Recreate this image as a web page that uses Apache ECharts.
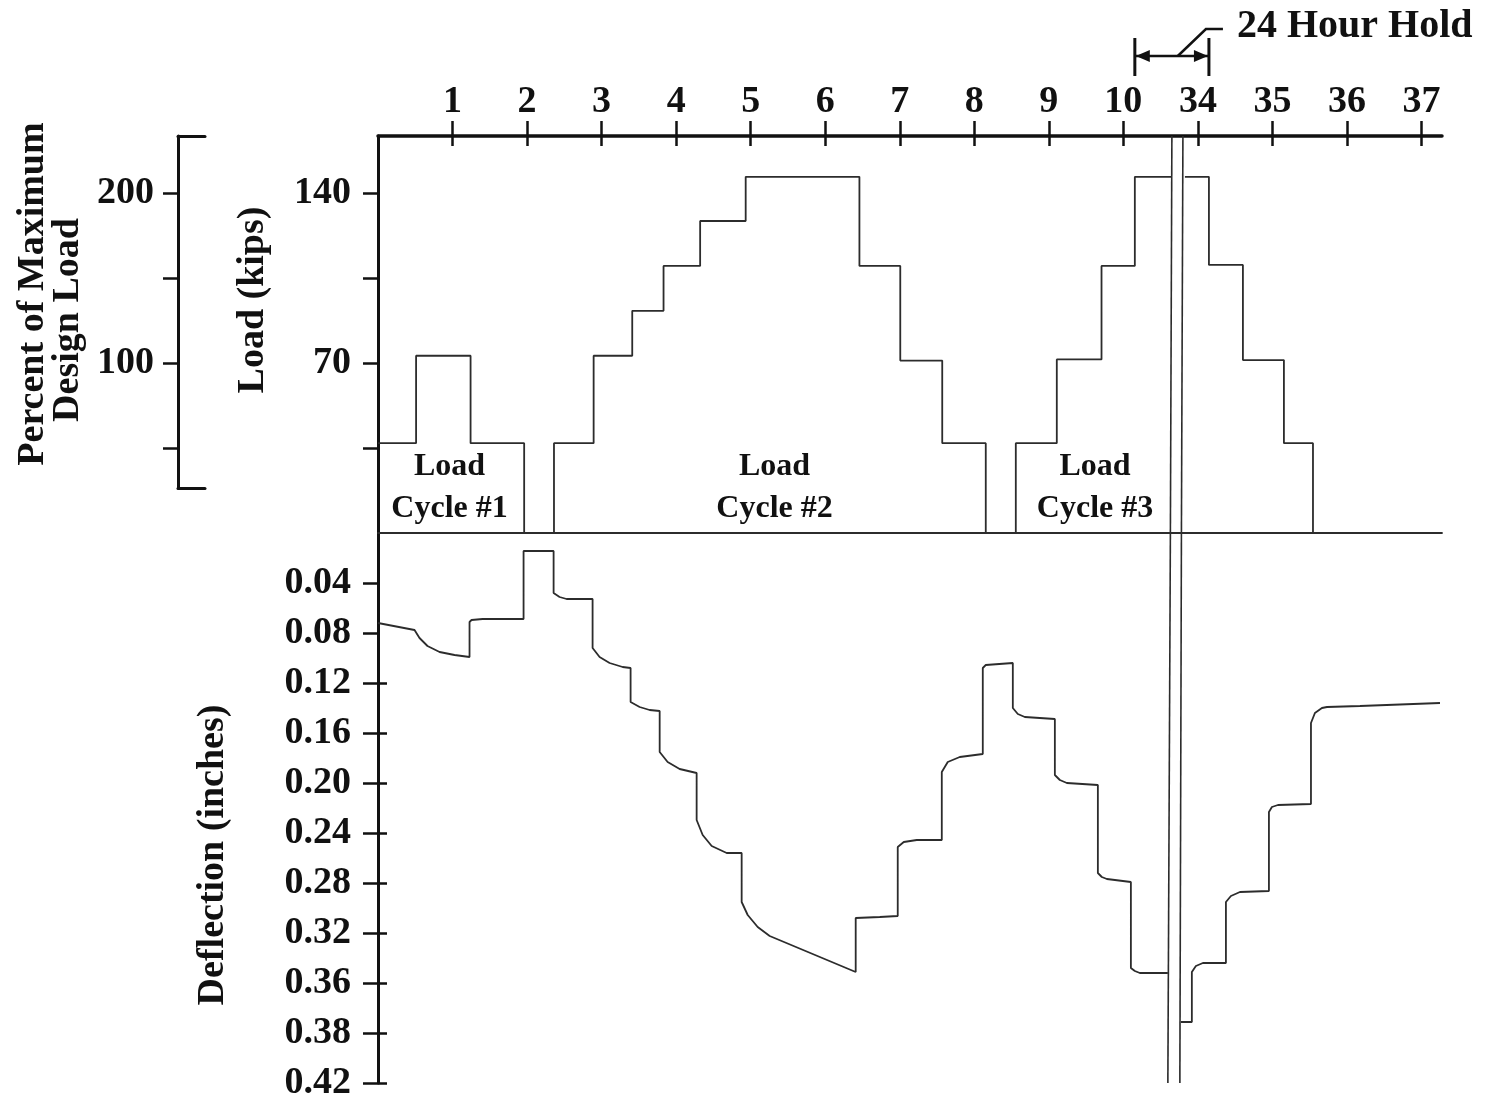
<!DOCTYPE html>
<html>
<head>
<meta charset="utf-8">
<script src="https://cdn.jsdelivr.net/npm/echarts@6/dist/echarts.min.js"></script>
<style>
html,body{margin:0;padding:0;background:#fff;}
#chart{width:1488px;height:1103px;}
</style>
</head>
<body>
<div id="chart"></div>
<script>
// ---- Top time axis (broken axis: 1..10 then 34..37) ----
const xTickPos = [1,2,3,4,5,6,7,8,9,10,11,12,13,14];
const xTickLabels = ['1','2','3','4','5','6','7','8','9','10','34','35','36','37'];
const xMax = 14.275;

// ---- Load axis (kips) and percent axis ----
const loadTicks = [35,70,105,140];
const loadLabels = [70,140];
const loadMax = 163.5;
const pctTicks = [50,100,150,200];
const pctLabels = [100,200];
const pctMin = 26.5, pctMax = 233.5;

// ---- Deflection axis ----
const defTickPos = [0.04,0.08,0.12,0.16,0.2,0.24,0.28,0.32,0.36,0.4,0.44];
const defTickLabels = ['0.04','0.08','0.12','0.16','0.20','0.24','0.28','0.32','0.36','0.38','0.42'];
const defMax = 0.44;

// ---- Load steps (value holds until next time) ----
const loadT1 = [0,0.511,1.242,1.961,2.361,2.893,3.411,3.831,4.322,4.933,6.459,7.007,7.570,8.154,8.557,9.107,9.707,10.154,10.651];
const loadV1 = [37,73,37,0,37,73,91.5,110,128.5,146.7,110,71,37,0,37,71.5,110,146.7,146.7];
const loadT2 = [10.826,11.148,11.604,12.154,12.544,14.275];
const loadV2 = [146.7,110.4,71.2,37,0,0];

// ---- Deflection (inches) ----
const defT1 = [0,0.490,0.557,0.664,0.826,1.027,1.228,1.228,1.255,1.403,1.953,1.953,2.356,2.356,2.436,2.530,2.879,2.879,2.973,3.107,3.282,3.389,3.389,3.510,3.644,3.779,3.779,3.886,4.047,4.275,4.275,4.356,4.477,4.678,4.879,4.879,4.960,5.094,5.255,6.409,6.409,6.732,6.973,6.973,7.054,7.228,7.564,7.564,7.644,7.805,8.114,8.114,8.154,8.517,8.517,8.584,8.678,9.081,9.081,9.148,9.242,9.658,9.658,9.711,9.779,10.101,10.101,10.154,10.221,10.597];
const defD1 = [0.072,0.0776,0.084,0.0904,0.0952,0.0976,0.0992,0.0712,0.0696,0.0688,0.0688,0.0144,0.0144,0.048,0.0512,0.0528,0.0528,0.092,0.0992,0.104,0.1072,0.108,0.1352,0.1392,0.1416,0.1424,0.1752,0.1832,0.1888,0.192,0.2296,0.2416,0.2504,0.256,0.256,0.2952,0.3056,0.3152,0.3224,0.3512,0.308,0.3072,0.3064,0.2512,0.2472,0.2456,0.2456,0.1912,0.1832,0.1792,0.1768,0.108,0.1056,0.104,0.14,0.1448,0.1472,0.1488,0.1936,0.1976,0.2,0.2016,0.272,0.2752,0.2768,0.2792,0.348,0.3504,0.352,0.352];
const defT2 = [10.772,10.919,10.919,10.973,11.067,11.376,11.376,11.443,11.564,11.953,11.953,11.993,12.074,12.517,12.517,12.570,12.664,12.732,13.174,14.248];
const defD2 = [0.3912,0.3912,0.3512,0.3464,0.344,0.344,0.2952,0.2904,0.2872,0.2864,0.2232,0.2192,0.2176,0.2168,0.152,0.144,0.14,0.1392,0.1384,0.136];

// ---- Break (24 hour hold) lines: time at top, at zero line, at bottom ----
const breakTop = [10.651,10.799];
const breakMid = [10.631,10.779];
const breakBot = [10.597,10.758];

// ---- Annotations ----
const cycleNames = ['Load\nCycle #1','Load\nCycle #2','Load\nCycle #3'];
const cycleX = [0.96,5.32,9.62];
const cycleY = 18.5;
const holdText = '24 Hour Hold';

const FONT = "'Liberation Serif','Times New Roman',serif";
const INK = '#111';
const LINE = '#2c2c2c';

function zip(a,b){ return a.map((v,i)=>[v,b[i]]); }
function near(arr, v){ return arr.findIndex(t => Math.abs(t - v) < 1e-6); }

const chart = echarts.init(document.getElementById('chart'), null, {renderer:'canvas'});

const labelStyle = {color: INK, fontFamily: FONT, fontWeight: 'bold', fontSize: 38};

const option = {
  animation: false,
  backgroundColor: '#fff',
  grid: [
    {left: 378, right: 46, top: 136, height: 397},
    {left: 378, right: 46, top: 533, height: 550},
    {left: 178, width: 27, top: 136, height: 352}
  ],
  xAxis: [
    {gridIndex:0, type:'value', position:'top', min:0, max:xMax,
      axisLine:{show:true, onZero:false, lineStyle:{color:INK, width:3.5}},
      axisTick:{show:true, inside:false, length:15, customValues:xTickPos, lineStyle:{color:INK, width:2.5}},
      axisLabel:Object.assign({show:true, margin:15, customValues:xTickPos,
        formatter: v => { const i = near(xTickPos, v); return i >= 0 ? xTickLabels[i] : ''; }}, labelStyle),
      splitLine:{show:false}},
    {gridIndex:0, type:'value', position:'top', min:0, max:xMax,
      axisLine:{show:false, onZero:false},
      axisTick:{show:true, inside:true, length:10, customValues:xTickPos, lineStyle:{color:INK, width:2.5}},
      axisLabel:{show:false}, splitLine:{show:false}},
    {gridIndex:1, type:'value', position:'top', min:0, max:xMax,
      axisLine:{show:true, onZero:false, lineStyle:{color:LINE, width:1.8}},
      axisTick:{show:false}, axisLabel:{show:false}, splitLine:{show:false}},
    {gridIndex:2, type:'value', position:'bottom', min:0, max:1,
      axisLine:{show:true, onZero:false, lineStyle:{color:INK, width:3}},
      axisTick:{show:false}, axisLabel:{show:false}, splitLine:{show:false}},
    {gridIndex:2, type:'value', position:'top', min:0, max:1,
      axisLine:{show:true, onZero:false, lineStyle:{color:INK, width:3}},
      axisTick:{show:false}, axisLabel:{show:false}, splitLine:{show:false}}
  ],
  yAxis: [
    {gridIndex:0, type:'value', position:'left', min:0, max:loadMax,
      axisLine:{show:true, onZero:false, lineStyle:{color:INK, width:3}},
      axisTick:{show:true, length:15, customValues:loadTicks, lineStyle:{color:INK, width:2.5}},
      axisLabel:Object.assign({show:true, margin:27, customValues:loadLabels}, labelStyle),
      splitLine:{show:false}},
    {gridIndex:1, type:'value', position:'left', inverse:true, min:0, max:defMax,
      axisLine:{show:true, onZero:false, lineStyle:{color:INK, width:3}},
      axisTick:{show:true, length:15, customValues:defTickPos, lineStyle:{color:INK, width:2.5}},
      axisLabel:Object.assign({show:true, margin:27, customValues:defTickPos,
        formatter: v => { const i = near(defTickPos, v); return i >= 0 ? defTickLabels[i] : ''; }}, labelStyle),
      splitLine:{show:false}},
    {gridIndex:1, type:'value', position:'left', inverse:true, min:0, max:defMax,
      axisLine:{show:false, onZero:false},
      axisTick:{show:true, inside:true, length:9, customValues:defTickPos.slice(2), lineStyle:{color:INK, width:2.5}},
      axisLabel:{show:false}, splitLine:{show:false}},
    {gridIndex:2, type:'value', position:'left', min:pctMin, max:pctMax,
      axisLine:{show:true, onZero:false, lineStyle:{color:INK, width:3}},
      axisTick:{show:true, length:15, customValues:pctTicks, lineStyle:{color:INK, width:2.5}},
      axisLabel:Object.assign({show:true, margin:24, customValues:pctLabels}, labelStyle),
      splitLine:{show:false}}
  ],
  series: [
    {type:'line', name:'Load', xAxisIndex:0, yAxisIndex:0, step:'end', symbol:'none',
      data: zip(loadT1, loadV1), lineStyle:{color:LINE, width:1.8}},
    {type:'line', name:'Load (after hold)', xAxisIndex:0, yAxisIndex:0, step:'end', symbol:'none',
      data: zip(loadT2, loadV2), lineStyle:{color:LINE, width:1.8}},
    {type:'line', name:'Deflection', xAxisIndex:2, yAxisIndex:1, symbol:'none',
      data: zip(defT1, defD1), lineStyle:{color:LINE, width:1.8}},
    {type:'line', name:'Deflection (after hold)', xAxisIndex:2, yAxisIndex:1, symbol:'none',
      data: zip(defT2, defD2), lineStyle:{color:LINE, width:1.8}},
    ...breakTop.map((t,i)=>({type:'line', xAxisIndex:0, yAxisIndex:0, symbol:'none', silent:true,
      data:[[t, loadMax],[breakMid[i], 0]], lineStyle:{color:LINE, width:1.6}})),
    ...breakMid.map((t,i)=>({type:'line', xAxisIndex:2, yAxisIndex:1, symbol:'none', silent:true,
      data:[[t, 0],[breakBot[i], defMax]], lineStyle:{color:LINE, width:1.6}})),
    {type:'scatter', xAxisIndex:0, yAxisIndex:0, symbolSize:0, silent:true,
      itemStyle:{opacity:1}, emphasis:{disabled:true},
      data: cycleX.map((x,i)=>({name:cycleNames[i], value:[x, cycleY]})),
      label:{show:true, position:'inside', formatter: p => p.name, opacity:1,
        color:INK, textBorderWidth:0, fontFamily:FONT, fontWeight:'bold', fontSize:32, lineHeight:42, align:'center'}}
  ]
};
chart.setOption(option);

// axis titles and the "24 Hour Hold" callout
const xL = chart.convertToPixel({xAxisIndex:0}, loadT1[17]);
const xR = chart.convertToPixel({xAxisIndex:0}, loadT2[1]);
const titleFont = "bold 38px 'Liberation Serif','Times New Roman',serif";
const g = [
  {type:'text', x:33, y:294, rotation:Math.PI/2, style:{text:'Percent of Maximum', font:titleFont, fill:INK, textAlign:'center', textVerticalAlign:'middle'}},
  {type:'text', x:68, y:320, rotation:Math.PI/2, style:{text:'Design Load', font:titleFont, fill:INK, textAlign:'center', textVerticalAlign:'middle'}},
  {type:'text', x:253, y:300, rotation:Math.PI/2, style:{text:'Load (kips)', font:titleFont, fill:INK, textAlign:'center', textVerticalAlign:'middle'}},
  {type:'text', x:213, y:855, rotation:Math.PI/2, style:{text:'Deflection (inches)', font:titleFont, fill:INK, textAlign:'center', textVerticalAlign:'middle'}},
  {type:'line', shape:{x1:xL, y1:38, x2:xL, y2:76}, style:{stroke:INK, lineWidth:3}},
  {type:'line', shape:{x1:xR, y1:38, x2:xR, y2:76}, style:{stroke:INK, lineWidth:3}},
  {type:'line', shape:{x1:xL, y1:56, x2:xR, y2:56}, style:{stroke:INK, lineWidth:2.5}},
  {type:'polygon', shape:{points:[[xL+1,56],[xL+15,50],[xL+15,62]]}, style:{fill:INK}},
  {type:'polygon', shape:{points:[[xR-1,56],[xR-15,50],[xR-15,62]]}, style:{fill:INK}},
  {type:'polyline', shape:{points:[[xL+(xR-xL)*0.58,56],[xR-3,29],[xR+14,29]]}, style:{stroke:INK, lineWidth:2.5, fill:null}},
  {type:'text', x:xR+28, y:27, style:{text:holdText, font:"bold 40px 'Liberation Serif','Times New Roman',serif", fill:INK, textAlign:'left', textVerticalAlign:'middle'}}
];
chart.setOption({graphic: g});
</script>
</body>
</html>
